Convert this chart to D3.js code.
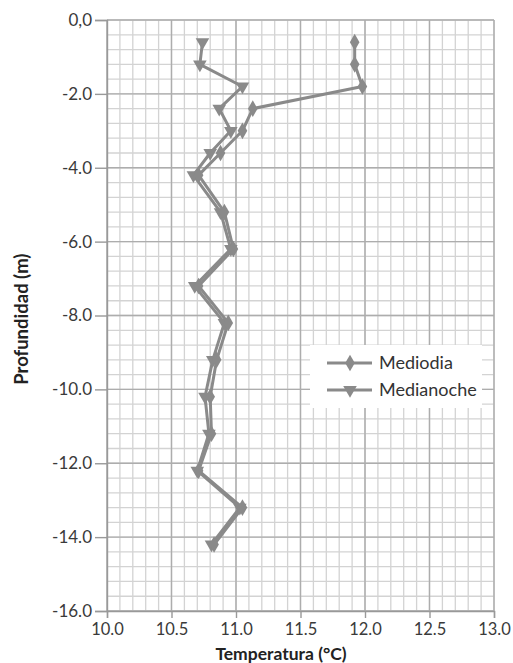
<!DOCTYPE html>
<html>
<head>
<meta charset="utf-8">
<script src="https://cdn.jsdelivr.net/npm/d3@7"></script>
<style>
  body { margin: 0; background: #fff; }
  text { font-family: Lato, "Open Sans", sans-serif; }
</style>
</head>
<body>
<script>
// depth (m) and temperature readings
const depths = [-0.6, -1.2, -1.8, -2.4, -3.0, -3.6, -4.2, -5.2, -6.2, -7.2, -8.2, -9.2, -10.2, -11.2, -12.2, -13.2, -14.2];
const mediodia = [11.92, 11.92, 11.98, 11.13, 11.05, 10.88, 10.71, 10.91, 10.98, 10.71, 10.94, 10.85, 10.80, 10.81, 10.71, 11.05, 10.83];
const medianoche = [10.74, 10.72, 11.05, 10.87, 10.96, 10.80, 10.67, 10.88, 10.96, 10.68, 10.91, 10.82, 10.76, 10.79, 10.70, 11.03, 10.81];
const xTicks = [10.0, 10.5, 11.0, 11.5, 12.0, 12.5, 13.0];
const yTicks = [0, -2, -4, -6, -8, -10, -12, -14, -16];
const seriesNames = ["Mediodia", "Medianoche"];

const width = 513, height = 663;
const margin = {left: 107, right: 19, top: 20, bottom: 52};

const svg = d3.select("body").append("svg")
    .attr("width", width)
    .attr("height", height);

const x = d3.scaleLinear().domain([10, 13]).range([margin.left, width - margin.right]);
const y = d3.scaleLinear().domain([0, -16]).range([margin.top, height - margin.bottom]);

const grid = svg.append("g");
// minor grid
d3.range(10, 13.0001, 0.1).forEach(v => {
    grid.append("line")
        .attr("x1", x(v)).attr("x2", x(v))
        .attr("y1", y(0)).attr("y2", y(-16))
        .attr("stroke", "#d3d3d3").attr("stroke-width", 1.3);
});
d3.range(0, -16.0001, -0.4).forEach(v => {
    grid.append("line")
        .attr("x1", x(10)).attr("x2", x(13))
        .attr("y1", y(v)).attr("y2", y(v))
        .attr("stroke", "#d3d3d3").attr("stroke-width", 1.3);
});
// major grid
xTicks.forEach(v => {
    grid.append("line")
        .attr("x1", x(v)).attr("x2", x(v))
        .attr("y1", y(0)).attr("y2", y(-16))
        .attr("stroke", "#adadad").attr("stroke-width", 1.4);
});
yTicks.forEach(v => {
    grid.append("line")
        .attr("x1", x(10)).attr("x2", x(13))
        .attr("y1", y(v)).attr("y2", y(v))
        .attr("stroke", "#adadad").attr("stroke-width", 1.4);
});

// axes, hyphen minus like the original
const fmt = d => (d === 0 ? "0,0" : d3.format(".1f")(d).replace("−", "-"));
const xAxis = svg.append("g")
    .attr("transform", `translate(0,${y(-16)})`)
    .call(d3.axisBottom(x).tickValues(xTicks).tickSize(7).tickPadding(5).tickFormat(fmt));
const yAxis = svg.append("g")
    .attr("transform", `translate(${x(10)},0)`)
    .call(d3.axisLeft(y).tickValues(yTicks).tickSize(12).tickPadding(3).tickFormat(fmt));
[xAxis, yAxis].forEach(a => {
    a.select(".domain").attr("stroke", "#999").attr("stroke-width", 1.4);
    a.selectAll(".tick line").attr("stroke", "#999").attr("stroke-width", 1.4);
    a.selectAll(".tick text").attr("fill", "#3a3a3a").style("font-size", "17px")
        .style("font-family", "Lato, sans-serif");
});
xAxis.selectAll(".tick text").style("font-size", "16.5px");

// series
const color = "#8a8a8a";
const diamond = d3.symbol().type(d3.symbolDiamond).size(80);
const triangle = d3.symbol().type(d3.symbolTriangle).size(80);

function drawSeries(vals, sym, rot) {
    const pts = vals.map((v, i) => [x(v), y(depths[i])]);
    svg.append("path")
        .attr("d", d3.line()(pts))
        .attr("fill", "none")
        .attr("stroke", color)
        .attr("stroke-width", 3)
        .attr("stroke-linejoin", "round");
    svg.append("g").selectAll("path")
        .data(pts)
        .enter().append("path")
        .attr("d", sym)
        .attr("transform", d => `translate(${d[0]},${d[1]}) rotate(${rot})`)
        .attr("fill", color);
}
drawSeries(medianoche, triangle, 180);
drawSeries(mediodia, diamond, 0);

// legend
const legend = svg.append("g").attr("transform", "translate(310,345)");
legend.append("rect")
    .attr("width", 172).attr("height", 63)
    .attr("fill", "#fff");
seriesNames.forEach((name, i) => {
    const g = legend.append("g").attr("transform", `translate(0,${18 + i * 27})`);
    g.append("line")
        .attr("x1", 17).attr("x2", 62)
        .attr("stroke", color).attr("stroke-width", 3);
    g.append("path")
        .attr("d", i === 0 ? diamond : triangle)
        .attr("transform", `translate(40,0) rotate(${i === 0 ? 0 : 180})`)
        .attr("fill", color);
    g.append("text")
        .attr("x", 69).attr("dy", "0.35em")
        .style("font-size", "18px")
        .attr("fill", "#333")
        .text(name);
});

// axis titles
svg.append("text")
    .attr("x", 281).attr("y", 660)
    .attr("text-anchor", "middle")
    .style("font-size", "17.5px").style("font-weight", "bold")
    .attr("fill", "#222")
    .text("Temperatura (°C)");
svg.append("text")
    .attr("transform", `translate(28,${y(-8.1)}) rotate(-90)`)
    .attr("text-anchor", "middle")
    .style("font-size", "18.5px").style("font-weight", "bold")
    .attr("fill", "#222")
    .text("Profundidad (m)");
</script>
</body>
</html>
